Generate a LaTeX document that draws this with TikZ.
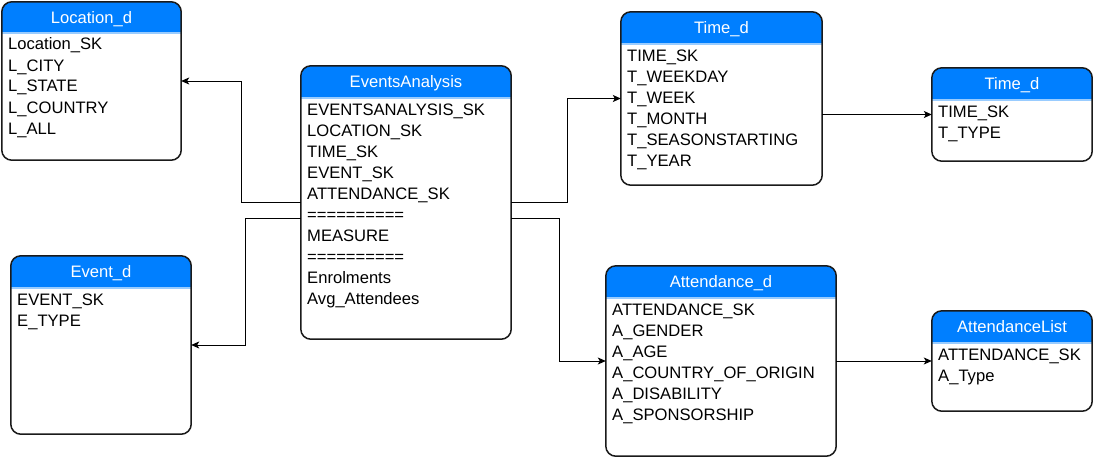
\documentclass[tikz,border=0pt]{standalone}
\usepackage{fontspec}
\setmainfont{Liberation Sans}
\usetikzlibrary{fit,arrows.meta}
\definecolor{hdrblue}{HTML}{007FFF}
\definecolor{seplight}{HTML}{99CCFF}
\definecolor{bordergray}{HTML}{1A1A1A}
\tikzset{
  hdr/.style={fill=hdrblue},
  sepline/.style={draw=seplight, line width=1.2pt},
  border/.style={draw=bordergray, line width=1.5pt},
  ttl/.style={text=white, font=\fontsize{16.6}{20}\selectfont, inner sep=0pt},
  txt/.style={text=black, font=\fontsize{16.6}{20}\selectfont, inner sep=0pt},
  conn/.style={draw=black, line width=0.9pt, -{Stealth[length=8pt,width=7pt,inset=2pt]}},
}
\newcommand\entity[8]{%
  \node[fit={(#2,#3)(#4,#5)}, inner sep=0pt] (#1) {};
  \fill[white, rounded corners=10pt] (#1.north west) rectangle (#1.south east);
  \begin{scope}
    \clip[rounded corners=10pt] (#1.north west) rectangle (#1.south east);
    \fill[hdr] (#1.north west) rectangle (#4,#6);
    \draw[sepline] (#2,#6) -- (#4,#6);
  \end{scope}
  \draw[border, rounded corners=10pt] (#1.north west) rectangle (#1.south east);
  \node[ttl, anchor=base] (#1-title) at ({(#2+#4)/2},{#3+21.5}) {#7};
  \foreach \t [count=\i] in {#8}
    \node[txt, anchor=base west] (#1-\i) at ({#2+6},{#6+17+21*(\i-1)}) {\t};
}
\begin{document}
\begin{tikzpicture}[x=1pt,y=-1pt]
\useasboundingbox (0,0) rectangle (1094,460);
\entity{loc}{2}{2}{181}{160}{33}{Location\_d}{Location\_SK,L\_CITY,L\_STATE,L\_COUNTRY,L\_ALL}
\entity{ea}{301}{66}{511}{339}{98}{EventsAnalysis}{EVENTSANALYSIS\_SK,LOCATION\_SK,TIME\_SK,EVENT\_SK,ATTENDANCE\_SK,==========,MEASURE,==========,Enrolments,Avg\_Attendees}
\entity{time}{621}{12}{822}{185}{44}{Time\_d}{TIME\_SK,T\_WEEKDAY,T\_WEEK,T\_MONTH,T\_SEASONSTARTING,T\_YEAR}
\entity{timeb}{932}{68}{1092}{161}{100}{Time\_d}{TIME\_SK,T\_TYPE}
\entity{ev}{11}{256}{191}{434}{288}{Event\_d}{EVENT\_SK,E\_TYPE}
\entity{att}{606}{266}{836}{456}{298}{Attendance\_d}{ATTENDANCE\_SK,A\_GENDER,A\_AGE,A\_COUNTRY\_OF\_ORIGIN,A\_DISABILITY,A\_SPONSORSHIP}
\entity{attl}{932}{311}{1092}{411}{343}{AttendanceList}{ATTENDANCE\_SK,A\_Type}

\draw[conn] (ea.west) -- ([xshift=-59pt]ea.west) |- (loc.east);
\draw[conn] ([yshift=-16pt]ea.west) -- ([xshift=-55pt,yshift=-16pt]ea.west) |- (ev.east);
\draw[conn] (ea.east) -- ([xshift=56pt]ea.east) |- (time.west);
\draw[conn] ([yshift=-16pt]ea.east) -- ([xshift=48pt,yshift=-16pt]ea.east) |- (att.west);
\draw[conn] (time.east |- timeb.west) -- (timeb.west);
\draw[conn] (att.east) -- (attl.west);
\end{tikzpicture}
\end{document}
